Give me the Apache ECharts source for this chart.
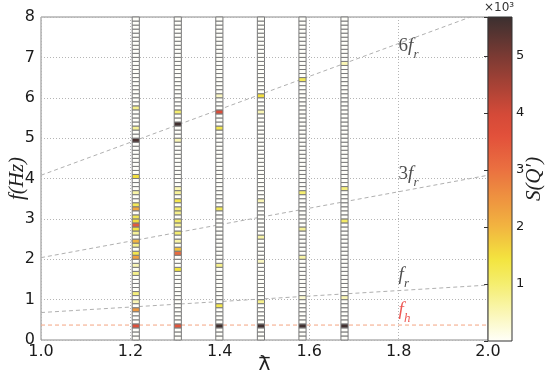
<!DOCTYPE html>
<html><head><meta charset="utf-8">
<script src="https://cdn.jsdelivr.net/npm/echarts@6/dist/echarts.min.js"></script>
<style>html,body{margin:0;padding:0;background:#fff}#c{width:550px;height:382px}</style>
</head><body><div id="c"></div>
<script>
// ---------------- data ----------------
const lambdaTicks = [1.0, 1.2, 1.4, 1.6, 1.8, 2.0];
const freqTicks = [0, 1, 2, 3, 4, 5, 6, 7, 8];
const colorbarTicks = [1, 2, 3, 4, 5];
const lambdas = [1.212, 1.306, 1.399, 1.492, 1.585, 1.679];
const binWidth = 0.1;      // Hz per cell
const binCount = 80;       // 0..8 Hz
const sMax = 5.68;         // S(Q') max, x10^3
// [bin start frequency (Hz), S(Q') x10^3]; all other cells are 0
const col1 = [[0.3,3.7],[0.7,2.4],[0.9,0.5],[1.1,0.9],[1.6,0.8],[1.8,0.5],[2.0,2.3],[2.1,1.3],[2.3,0.8],[2.4,2.0],[2.6,0.7],[2.7,1.4],[2.8,3.4],[2.9,1.5],[3.0,1.2],[3.2,2.2],[3.3,1.2],[3.6,0.6],[4.0,1.5],[4.9,5.5],[5.2,0.7],[5.7,0.8]];
const col2 = [[0.3,3.5],[1.7,1.4],[2.1,3.1],[2.2,1.8],[2.4,0.6],[2.6,1.0],[2.8,0.7],[2.9,1.1],[3.1,0.8],[3.2,1.0],[3.4,1.3],[3.6,0.7],[3.7,0.5],[4.9,0.5],[5.3,5.6],[5.6,1.0]];
const col3 = [[0.3,5.6],[0.8,1.3],[1.8,0.8],[3.2,1.2],[5.2,1.3],[5.6,3.8],[6.0,0.4]];
const col4 = [[0.3,5.6],[0.9,0.8],[1.9,0.4],[2.5,0.6],[3.4,0.5],[5.6,0.5],[6.0,1.5]];
const col5 = [[0.3,5.6],[1.0,0.3],[2.0,0.6],[2.7,0.7],[3.6,1.0],[6.4,1.2]];
const col6 = [[0.3,5.6],[1.0,0.5],[2.9,1.1],[3.7,0.9],[6.8,0.5]];
const columns = [col1, col2, col3, col4, col5, col6];
const lineLambda = [1.0, 2.0];
const frLine  = [0.68, 1.36];
const fr3Line = [2.04, 4.08];
const fr6Line = [4.08, 8.16];
const fhLine  = [0.37, 0.37];

// ---------------- colormap (hot_r-like, as in reference colorbar) ----------------
const cmapStops = [
  [0.000, [255,255,250]], [0.176, [245,238,112]], [0.254, [243,228,62]],
  [0.350, [242,182,64]],  [0.530, [234,112,64]],  [0.635, [226,80,58]],
  [0.700, [212,74,56]],   [0.880, [122,58,51]],   [1.000, [58,48,48]]
];
function cmap(t) {
  for (let i = 1; i < cmapStops.length; i++) {
    const [t1, c1] = cmapStops[i], [t0, c0] = cmapStops[i-1];
    if (t <= t1) {
      const u = (t - t0) / (t1 - t0);
      const c = c0.map((v, j) => Math.round(v + (c1[j] - v) * u));
      return 'rgb(' + c.join(',') + ')';
    }
  }
  return 'rgb(58,48,48)';
}
const nColors = 57;
const cmapColors = [], gradStops = [];
for (let i = 0; i < nColors; i++) {
  const t = i / (nColors - 1);
  cmapColors.push(cmap(t));
  gradStops.push({offset: t, color: cmap(t)});
}

// ---------------- build cells ----------------
const cells = [];
columns.forEach((col, i) => {
  const lookup = {};
  col.forEach(([f, v]) => { lookup[Math.round(f / binWidth)] = v; });
  for (let k = 0; k < binCount; k++) {
    cells.push([lambdas[i], k * binWidth, lookup[k] || 0]);
  }
});
const cellW = 0.016;

const serif = 'Liberation Serif';
const tickFont = {fontFamily: 'DejaVu Sans', fontSize: 16, color: '#1a1a1a'};
const rich = {
  n: {fontFamily: serif, fontSize: 19, color: '#222', lineHeight: 22},
  f: {fontFamily: serif, fontStyle: 'italic', fontSize: 19, color: '#222', lineHeight: 22},
  s: {fontFamily: serif, fontStyle: 'italic', fontSize: 13, color: '#222', lineHeight: 22, verticalAlign: 'bottom', padding: [0,0,-4,0]},
  fr: {fontFamily: serif, fontStyle: 'italic', fontSize: 19, color: '#e8302a', lineHeight: 22},
  sr: {fontFamily: serif, fontStyle: 'italic', fontSize: 13, color: '#e8302a', lineHeight: 22, verticalAlign: 'bottom', padding: [0,0,-4,0]}
};
function pairs(xs, ys) { return xs.map((x, i) => [x, ys[i]]); }
function dashLine(data, color) {
  return {type: 'line', xAxisIndex: 0, yAxisIndex: 0, data: data, symbol: 'none', silent: true, z: 1,
    lineStyle: {color: color, width: 1, type: [4, 3]}};
}
function annot(pos, fmt) {
  return {type: 'scatter', xAxisIndex: 0, yAxisIndex: 0, symbolSize: 0, data: [pos], silent: true, z: 5,
    label: {show: true, position: 'right', distance: 0, formatter: fmt, rich: rich}};
}

const chart = echarts.init(document.getElementById('c'), null, {renderer: 'canvas'});
chart.setOption({
  animation: false,
  backgroundColor: '#fff',
  grid: [
    {left: 41, top: 17, width: 447, height: 323, show: true, borderColor: '#8a8a8a', borderWidth: 1, backgroundColor: 'transparent', containLabel: false, outerBoundsMode: 'none'},
    {left: 488, top: 17, width: 24, height: 324, containLabel: false, outerBoundsMode: 'none'}
  ],
  xAxis: [
    {type: 'value', gridIndex: 0, min: 1.0, max: 2.0, interval: 0.2,
     axisLine: {show: false}, axisTick: {show: false},
     axisLabel: Object.assign({margin: 4, formatter: v => v.toFixed(1)}, tickFont),
     splitLine: {show: true, lineStyle: {color: '#b5b5b5', type: [1, 2], width: 1}},
     name: '{b|_}\n{l|λ}', nameLocation: 'middle', nameGap: 2, nameMoveOverlap: false,
     nameTextStyle: {verticalAlign: 'top', rich: {
       b: {fontFamily: 'DejaVu Sans', fontSize: 20, color: '#222', lineHeight: 13},
       l: {fontFamily: 'DejaVu Sans', fontSize: 20, color: '#222', lineHeight: 20}}}},
    {type: 'value', gridIndex: 1, min: 0, max: 1, show: false}
  ],
  yAxis: [
    {type: 'value', gridIndex: 0, min: 0, max: 8, interval: 1,
     axisLine: {show: false}, axisTick: {show: false},
     axisLabel: Object.assign({margin: 6}, tickFont),
     splitLine: {show: true, lineStyle: {color: '#b5b5b5', type: [1, 2], width: 1}},
     name: 'f(Hz)', nameLocation: 'middle', nameGap: 13, nameRotate: 90, nameMoveOverlap: false,
     nameTextStyle: {fontFamily: serif, fontStyle: 'italic', fontSize: 21, color: '#222'}},
    {type: 'value', gridIndex: 1, min: 0, max: sMax, interval: 1, position: 'right',
     axisLine: {show: false}, axisTick: {show: true, inside: true, length: 4, lineStyle: {color: '#333'}},
     axisLabel: Object.assign({margin: 4, formatter: v => (colorbarTicks.indexOf(v) >= 0 ? String(v) : '')}, tickFont, {fontSize: 13}),
     splitLine: {show: false},
     name: "S(Q′)", nameLocation: 'middle', nameGap: 12, nameRotate: 90, nameMoveOverlap: false,
     nameTextStyle: {fontFamily: serif, fontStyle: 'italic', fontSize: 21, color: '#222'}}
  ],
  visualMap: {type: 'continuous', show: false, min: 0, max: sMax, dimension: 2, seriesIndex: 0,
    inRange: {color: cmapColors}},
  graphic: [{type: 'text', left: 484, top: 2, style: {text: '×10³', fontFamily: 'DejaVu Sans', fontSize: 12, fill: '#333'}}],
  series: [
    {type: 'custom', xAxisIndex: 0, yAxisIndex: 0, data: cells, z: 3, silent: true,
     encode: {x: 0, y: 1},
     renderItem: function (params, api) {
       const x = api.value(0), f0 = api.value(1);
       const p0 = api.coord([x - cellW / 2, f0 + binWidth]);
       const p1 = api.coord([x + cellW / 2, f0]);
       return {type: 'rect', shape: {x: p0[0], y: p0[1], width: p1[0] - p0[0], height: p1[1] - p0[1]},
         style: {fill: api.visual('color'), stroke: '#7a7a7a', lineWidth: 1}};
     }},
    dashLine(pairs(lineLambda, fhLine), '#f4a582'),
    dashLine(pairs(lineLambda, frLine), '#b0b0b0'),
    dashLine(pairs(lineLambda, fr3Line), '#b0b0b0'),
    dashLine(pairs(lineLambda, fr6Line), '#b0b0b0'),
    annot([1.8, 7.28], '{n|6}{f|f}{s|r}'),
    annot([1.8, 4.11], '{n|3}{f|f}{s|r}'),
    annot([1.8, 1.61], '{f|f}{s|r}'),
    annot([1.8, 0.74], '{fr|f}{sr|h}'),
    {type: 'custom', xAxisIndex: 1, yAxisIndex: 1, data: [[0, 0]], silent: true, z: 3,
     renderItem: function (params, api) {
       const p0 = api.coord([0, sMax]);
       const p1 = api.coord([1, 0]);
       return {type: 'rect', shape: {x: p0[0], y: p0[1], width: p1[0] - p0[0], height: p1[1] - p0[1]},
         style: {fill: new echarts.graphic.LinearGradient(0, 1, 0, 0, gradStops), stroke: '#333', lineWidth: 1}};
     }}
  ]
});
</script>
</body></html>
